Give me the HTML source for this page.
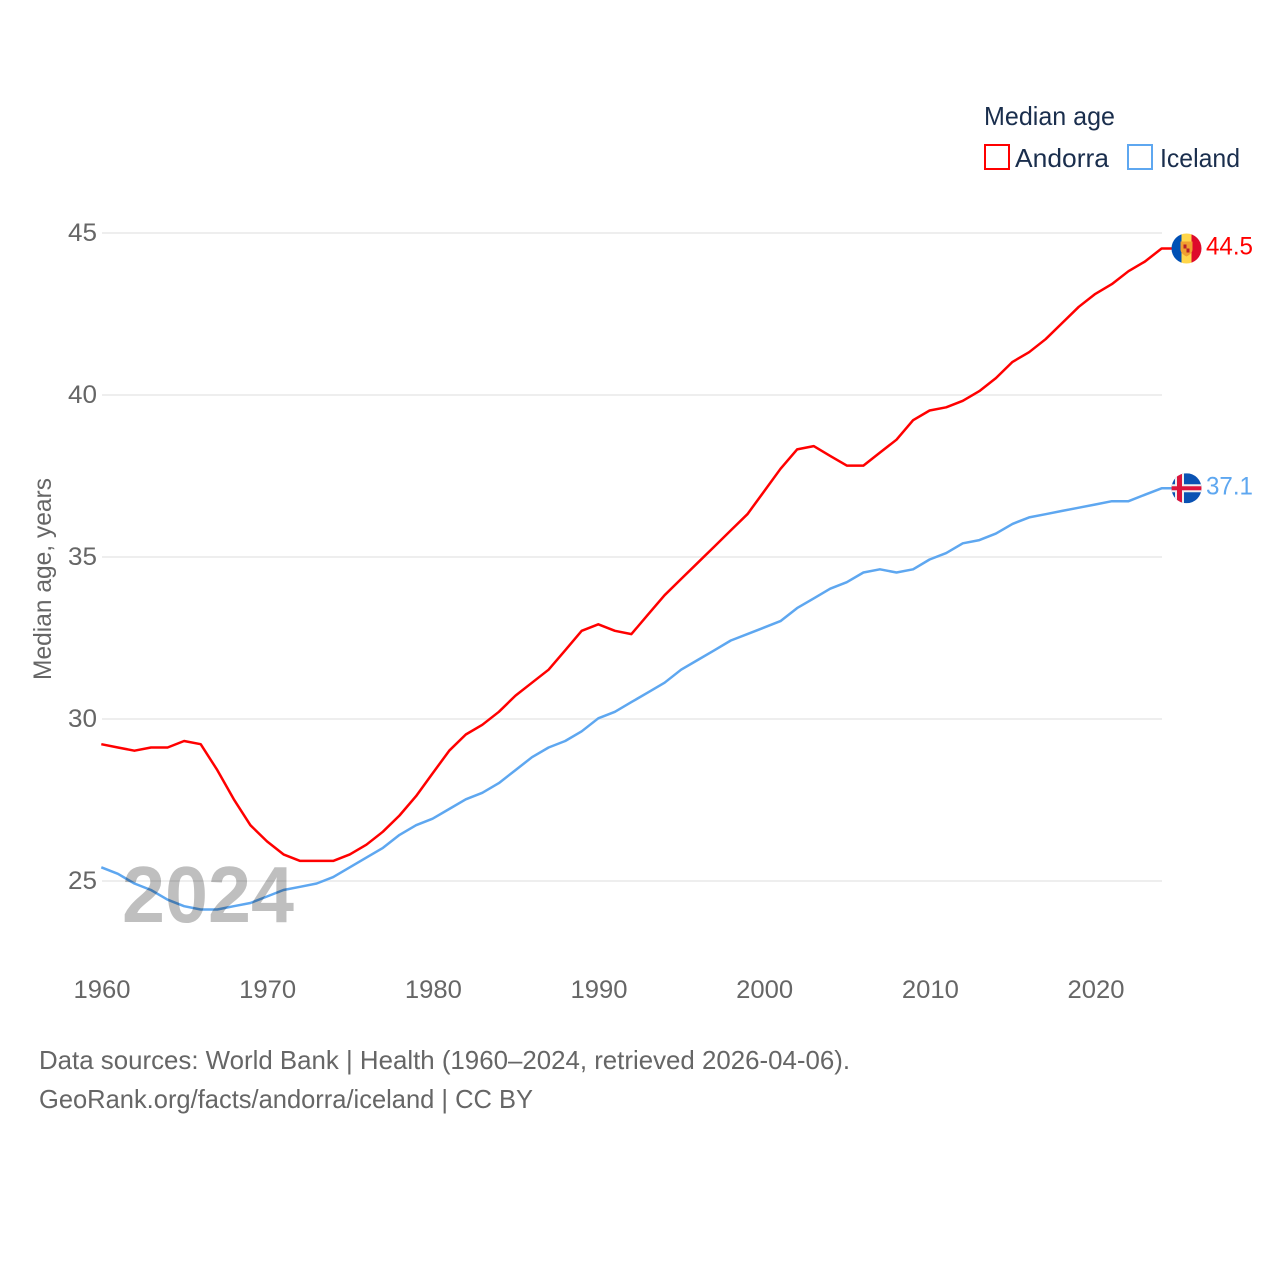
<!DOCTYPE html>
<html lang="en">
<head>
<meta charset="utf-8">
<title>Median age: Andorra and Iceland</title>
<style>
html,body{margin:0;padding:0;background:#fff;}
svg{display:block;font-family:"Liberation Sans",sans-serif;}
</style>
</head>
<body>
<svg id="chart" xmlns="http://www.w3.org/2000/svg" width="1280" height="1280" viewBox="0 0 1280 1280">
  <defs>
    <clipPath id="flag-clip"><circle cx="0" cy="0" r="15"/></clipPath>
  </defs>
  <rect x="0" y="0" width="1280" height="1280" fill="#fff"/>
  <g id="grid"></g>
  <g id="y-ticks"></g>
  <g id="x-ticks"></g>
  <text transform="translate(51,680) rotate(-90)" font-size="25" fill="#666" textLength="202" lengthAdjust="spacingAndGlyphs">Median age, years</text>
  <g id="series"></g>
  <text x="122" y="922" font-size="80" font-weight="700" fill="#000" fill-opacity="0.25" textLength="172" lengthAdjust="spacingAndGlyphs">2024</text>

  <g id="flag-andorra">
    <g clip-path="url(#flag-clip)">
      <rect x="-15" y="-15" width="10" height="30" fill="#0050b5"/>
      <rect x="-5" y="-15" width="10" height="30" fill="#ffd64a"/>
      <rect x="5" y="-15" width="10" height="30" fill="#de0a2b"/>
      <path d="M-6-7H6V1Q6 5 0 8Q-6 5-6 1Z" fill="#f0a030"/>
      <rect x="-3" y="-4" width="3" height="4" fill="#b5202a"/>
      <rect x="0" y="0" width="3" height="4" fill="#b5202a"/>
    </g>
  </g>
  <g id="flag-iceland">
    <g clip-path="url(#flag-clip)">
      <rect x="-15" y="-15" width="30" height="30" fill="#0a52b3"/>
      <rect x="-15" y="-4" width="30" height="8" fill="#f0f0f0"/>
      <rect x="-11.5" y="-15" width="9" height="30" fill="#f0f0f0"/>
      <rect x="-15" y="-2" width="30" height="4" fill="#dc143c"/>
      <rect x="-9.5" y="-15" width="5" height="30" fill="#dc143c"/>
    </g>
  </g>
  <text id="label-andorra" x="1206" font-size="25" fill="#ff0000" textLength="47" lengthAdjust="spacingAndGlyphs"></text>
  <text id="label-iceland" x="1206" font-size="25" fill="#5ea7f0" textLength="47" lengthAdjust="spacingAndGlyphs"></text>

  <g>
    <text x="984" y="125" font-size="26" fill="#1a2e4d" textLength="131" lengthAdjust="spacingAndGlyphs">Median age</text>
    <g>
      <rect x="985" y="145" width="24" height="24" fill="#fff" stroke="#ff0000" stroke-width="2"/>
      <text x="1015" y="167" font-size="26" fill="#1a2e4d" textLength="94" lengthAdjust="spacingAndGlyphs">Andorra</text>
    </g>
    <g>
      <rect x="1128" y="145" width="24" height="24" fill="#fff" stroke="#5ea7f0" stroke-width="2"/>
      <text x="1160" y="167" font-size="26" fill="#1a2e4d" textLength="80" lengthAdjust="spacingAndGlyphs">Iceland</text>
    </g>
  </g>

  <text x="39" y="1069" font-size="26" fill="#666" textLength="811" lengthAdjust="spacingAndGlyphs">Data sources: World Bank | Health (1960–2024, retrieved 2026-04-06).</text>
  <text x="39" y="1108" font-size="26" fill="#666" textLength="494" lengthAdjust="spacingAndGlyphs">GeoRank.org/facts/andorra/iceland | CC BY</text>
</svg>
<script>
const startYear = 1960;
const andorraValues = [29.2,29.1,29.0,29.1,29.1,29.3,29.2,28.4,27.5,26.7,26.2,25.8,25.6,25.6,25.6,25.8,26.1,26.5,27.0,27.6,28.3,29.0,29.5,29.8,30.2,30.7,31.1,31.5,32.1,32.7,32.9,32.7,32.6,33.2,33.8,34.3,34.8,35.3,35.8,36.3,37.0,37.7,38.3,38.4,38.1,37.8,37.8,38.2,38.6,39.2,39.5,39.6,39.8,40.1,40.5,41.0,41.3,41.7,42.2,42.7,43.1,43.4,43.8,44.1,44.5];
const icelandValues = [25.4,25.2,24.9,24.7,24.4,24.2,24.1,24.1,24.2,24.3,24.5,24.7,24.8,24.9,25.1,25.4,25.7,26.0,26.4,26.7,26.9,27.2,27.5,27.7,28.0,28.4,28.8,29.1,29.3,29.6,30.0,30.2,30.5,30.8,31.1,31.5,31.8,32.1,32.4,32.6,32.8,33.0,33.4,33.7,34.0,34.2,34.5,34.6,34.5,34.6,34.9,35.1,35.4,35.5,35.7,36.0,36.2,36.3,36.4,36.5,36.6,36.7,36.7,36.9,37.1];
const yTickLabels = [25,30,35,40,45];
const xTickLabels = [1960,1970,1980,1990,2000,2010,2020];

const NS = 'http://www.w3.org/2000/svg';
function xScale(year){ return 102 + (year - 1960) * 16.567; }
function yScale(value){ return 881 - (value - 25) * 32.4; }
const seriesDx = -0.7;
const seriesDy = -0.7;
function make(tag, attrs){
  const el = document.createElementNS(NS, tag);
  for (const k in attrs) el.setAttribute(k, attrs[k]);
  return el;
}

const grid = document.getElementById('grid');
const yTicks = document.getElementById('y-ticks');
yTickLabels.forEach(function(v){
  const line = make('line', {x1: 102, x2: 1162, y1: yScale(v), y2: yScale(v), stroke: '#eeeeee', 'stroke-width': 2});
  
  
  grid.appendChild(line);
  const t = make('text', {x: 97, y: yScale(v) + 8, 'text-anchor': 'end', 'font-size': 25, fill: '#666', textLength: 29, lengthAdjust: 'spacingAndGlyphs'});
  
  
  t.textContent = v;
  yTicks.appendChild(t);
});

const xTicks = document.getElementById('x-ticks');
xTickLabels.forEach(function(y){
  const t = make('text', {x: xScale(y), y: 998, 'text-anchor': 'middle', 'font-size': 25, fill: '#666', textLength: 57, lengthAdjust: 'spacingAndGlyphs'});
  
  
  t.textContent = y;
  xTicks.appendChild(t);
});

const seriesGroup = document.getElementById('series');
function drawSeries(values, color, name){
  const pts = values.map(function(v, i){ return (xScale(startYear + i) + seriesDx).toFixed(1) + ',' + (yScale(v) + seriesDy).toFixed(1); });
  const lastY = (yScale(values[values.length - 1]) + seriesDy).toFixed(1);
  pts.push('1172,' + lastY);
  const line = make('polyline', {points: pts.join(' '), fill: 'none', stroke: color, 'stroke-width': 2.5, 'stroke-linejoin': 'round'});
  
  
  seriesGroup.appendChild(line);
}
drawSeries(andorraValues, '#ff0000', 'andorra');
drawSeries(icelandValues, '#5ea7f0', 'iceland');

function placeEnd(values, flagId, labelId){
  const last = values[values.length - 1];
  const y = yScale(last) + seriesDy;
  document.getElementById(flagId).setAttribute('transform', 'translate(1186.5,' + y + ')');
  const label = document.getElementById(labelId);
  label.setAttribute('y', y + 6);
  label.textContent = last.toFixed(1);
}
placeEnd(andorraValues, 'flag-andorra', 'label-andorra');
placeEnd(icelandValues, 'flag-iceland', 'label-iceland');
</script>
</body>
</html>
